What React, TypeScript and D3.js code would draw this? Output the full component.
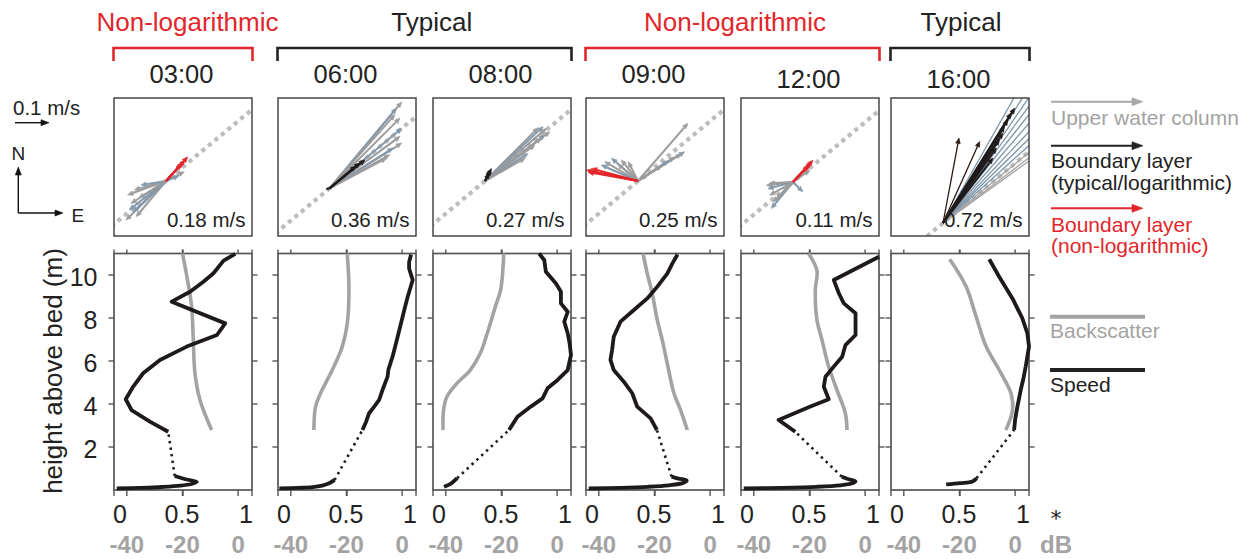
import React from "react";
import * as d3 from "d3";

const FONT = "'Liberation Sans', Arial, Helvetica, sans-serif";
const RED = "#e3262b";
const GREY_TXT = "#a3a3a3";
const BLACK = "#1e1a1a";

// ---------- categories / labels ----------
const TIMES = ["03:00", "06:00", "08:00", "09:00", "12:00", "16:00"];
const MAX_SPEED_LABELS = ["0.18 m/s", "0.36 m/s", "0.27 m/s", "0.25 m/s", "0.11 m/s", "0.72 m/s"];
const BED_TYPE = ["non", "typical", "typical", "non", "non", "typical"];
const GROUP_LABELS = ["Non-logarithmic", "Typical", "Non-logarithmic", "Typical"];
const GROUP_TYPE = ["non", "typical", "non", "typical"];
const GROUP_FIRST = [0, 1, 3, 5];
const GROUP_LAST = [0, 2, 4, 5];

const SPEED_TICKS = [0, 0.5, 1];
const SPEED_TICK_LABELS = ["0", "0.5", "1"];
const DB_TICKS = [-40, -20, 0];
const HEIGHT_TICKS = [2, 4, 6, 8, 10];
const PRINCIPAL_AXIS_DEG = 39.7;
const SCALE_ARROW_MS = 0.1;

// ---------- profiles: [normalised speed, height above bed (m)] ----------
const SPEED_UPPER_0300 = [[0.393, 2.71], [0.26, 3.18], [0.127, 3.72], [0.085, 4.22], [0.138, 4.8], [0.211, 5.43], [0.333, 6.05], [0.527, 6.67], [0.746, 7.21], [0.806, 7.75], [0.418, 8.76], [0.551, 9.22], [0.648, 9.69], [0.721, 10.08], [0.794, 10.67], [0.879, 10.98]];
const SPEED_UPPER_0600 = [[0.612, 2.79], [0.64, 3.2], [0.66, 3.57], [0.7, 3.9], [0.733, 4.19], [0.76, 4.7], [0.794, 5.27], [0.8, 5.6], [0.83, 6.2], [0.85, 6.7], [0.867, 7.13], [0.903, 8.06], [0.92, 8.5], [0.94, 8.99], [0.976, 9.77], [0.95, 10.3], [0.95, 10.6], [0.964, 10.95]];
const SPEED_UPPER_0800 = [[0.551, 2.79], [0.612, 3.41], [0.709, 3.88], [0.794, 4.26], [0.83, 4.73], [0.903, 5.12], [0.976, 5.58], [1.0, 6.28], [0.99, 6.82], [0.976, 7.29], [0.951, 7.83], [0.976, 8.29], [0.927, 8.68], [0.927, 9.22], [0.891, 9.6], [0.818, 10.15], [0.806, 10.7], [0.769, 11.0]];
const SPEED_UPPER_0900 = [[0.514, 2.79], [0.468, 3.33], [0.371, 3.88], [0.335, 4.5], [0.274, 5.04], [0.201, 5.58], [0.177, 6.05], [0.189, 6.51], [0.201, 7.13], [0.25, 7.83], [0.347, 8.37], [0.444, 8.91], [0.517, 9.46], [0.59, 10.08], [0.626, 10.54], [0.663, 10.95]];
const SPEED_UPPER_1200 = [[0.393, 2.71], [0.272, 3.26], [0.503, 3.88], [0.636, 4.22], [0.6, 4.8], [0.612, 5.27], [0.672, 5.74], [0.733, 6.2], [0.757, 6.74], [0.83, 7.21], [0.83, 8.22], [0.745, 8.68], [0.709, 9.15], [0.672, 9.77], [1.0, 10.85]];
const SPEED_UPPER_1600 = [[0.892, 2.79], [0.9, 3.3], [0.916, 3.88], [0.94, 4.65], [0.96, 5.2], [0.976, 5.74], [1.0, 6.67], [0.988, 7.29], [0.952, 7.98], [0.88, 8.91], [0.784, 9.92], [0.712, 10.73]];
const SPEED_UPPER = [SPEED_UPPER_0300, SPEED_UPPER_0600, SPEED_UPPER_0800, SPEED_UPPER_0900, SPEED_UPPER_1200, SPEED_UPPER_1600];

const SPEED_BED_0300 = [[0.02, 0.07], [0.2, 0.1], [0.35, 0.14], [0.48, 0.2], [0.56, 0.28], [0.6, 0.38], [0.52, 0.5], [0.44, 0.65]];
const SPEED_BED_0600 = [[0.01, 0.08], [0.15, 0.1], [0.25, 0.13], [0.32, 0.2], [0.37, 0.31], [0.41, 0.47]];
const SPEED_BED_0800 = [[0.08, 0.15], [0.13, 0.3], [0.175, 0.55]];
const SPEED_BED_0900 = [[0.02, 0.07], [0.25, 0.1], [0.45, 0.15], [0.6, 0.22], [0.7, 0.32], [0.73, 0.44], [0.67, 0.53], [0.62, 0.62]];
const SPEED_BED_1200 = [[0.02, 0.07], [0.3, 0.1], [0.55, 0.15], [0.72, 0.22], [0.8, 0.3], [0.83, 0.4], [0.78, 0.5], [0.73, 0.62]];
const SPEED_BED_1600 = [[0.4, 0.26], [0.5, 0.32], [0.59, 0.39], [0.62, 0.55]];
const SPEED_BED = [SPEED_BED_0300, SPEED_BED_0600, SPEED_BED_0800, SPEED_BED_0900, SPEED_BED_1200, SPEED_BED_1600];

// backscatter: [dB, height (m)]
const BACKSCATTER_0300 = [[-9.5, 2.79], [-13.7, 4.19], [-15.5, 5.43], [-16.1, 6.98], [-16.7, 8.53], [-18.5, 10], [-20, 11]];
const BACKSCATTER_0600 = [[-31.7, 2.79], [-31.1, 3.88], [-29.3, 4.5], [-25.1, 5.58], [-21.5, 6.67], [-19.7, 7.75], [-19.1, 9.3], [-19.7, 11]];
const BACKSCATTER_0800 = [[-41, 2.79], [-40.8, 3.72], [-39.6, 4.34], [-36, 4.96], [-31.2, 5.58], [-27.6, 6.36], [-25.1, 7.29], [-22.2, 8.53], [-20.3, 9.3], [-19.4, 10.4], [-19.2, 11]];
const BACKSCATTER_0900 = [[-8.2, 2.79], [-10.6, 3.72], [-13, 4.5], [-15.4, 5.89], [-17.2, 6.98], [-19, 7.91], [-20.8, 9.15], [-22.6, 10.08], [-24.1, 11]];
const BACKSCATTER_1200 = [[-6.5, 2.79], [-7.1, 3.57], [-10.1, 4.65], [-13.1, 5.74], [-15.5, 6.98], [-17.3, 7.91], [-17.9, 9.3], [-17.3, 10.2], [-20.3, 11]];
const BACKSCATTER_1600 = [[-3.3, 2.79], [-0.9, 3.72], [-1.5, 4.5], [-5.7, 5.58], [-10.4, 6.67], [-14, 8.06], [-17.6, 9.46], [-23.5, 10.73]];
const BACKSCATTER = [BACKSCATTER_0300, BACKSCATTER_0600, BACKSCATTER_0800, BACKSCATTER_0900, BACKSCATTER_1200, BACKSCATTER_1600];

// ---------- velocity vectors: [east, north] in m/s ----------
const UPPER_ARROWS_0300 = [[-0.118, -0.115], [-0.108, -0.085], [-0.113, -0.041], [-0.093, -0.026], [-0.074, -0.012], [-0.103, -0.066], [-0.088, -0.105], [-0.097, -0.091], [-0.08, -0.05], [0.054, 0.027], [0.038, 0.015]];
const UPPER_ARROWS_0600 = [[0.211, 0.253], [0.196, 0.235], [0.191, 0.216], [0.206, 0.206], [0.211, 0.176], [0.206, 0.152], [0.211, 0.132], [0.186, 0.118], [0.176, 0.098], [0.167, 0.088]];
const UPPER_ARROWS_0800 = [[0.157, 0.157], [0.171, 0.16], [0.181, 0.155], [0.191, 0.145], [0.176, 0.135], [0.166, 0.126], [0.147, 0.106], [0.127, 0.081], [0.118, 0.067]];
const UPPER_ARROWS_0900 = [[0.147, 0.17], [0.137, 0.086], [0.128, 0.08], [0.108, 0.071], [0.09, 0.06], [0.07, 0.045], [-0.098, 0.057], [-0.078, 0.067], [-0.049, 0.062], [-0.029, 0.057], [-0.108, 0.047], [-0.06, 0.05], [0.03, 0.02]];
const UPPER_ARROWS_1200 = [[-0.079, -0.01], [-0.074, -0.02], [-0.069, -0.039], [-0.059, -0.059], [-0.064, -0.078], [-0.049, -0.049], [-0.07, -0.004], [0.029, -0.029], [0.05, 0.035]];
const UPPER_ARROWS_1600 = [[0.306, 0.539], [0.343, 0.54], [0.373, 0.545], [0.403, 0.548], [0.435, 0.549], [0.47, 0.545], [0.487, 0.517], [0.5, 0.49], [0.505, 0.455], [0.51, 0.419], [0.51, 0.387], [0.503, 0.363]];
const UPPER_ARROWS = [UPPER_ARROWS_0300, UPPER_ARROWS_0600, UPPER_ARROWS_0800, UPPER_ARROWS_0900, UPPER_ARROWS_1200, UPPER_ARROWS_1600];

const BED_ARROWS_0300 = [[0.064, 0.071], [0.056, 0.062], [0.05, 0.055], [0.045, 0.05]];
const BED_ARROWS_0600 = [[0.103, 0.083], [0.088, 0.074], [0.076, 0.065], [-0.012, -0.004]];
const BED_ARROWS_0800 = [[0.019, 0.037], [0.016, 0.032], [0.012, 0.023]];
const BED_ARROWS_0900 = [[-0.152, 0.032], [-0.137, 0.037], [-0.147, 0.026], [-0.14, 0.03]];
const BED_ARROWS_1200 = [[0.059, 0.064], [0.054, 0.059], [0.05, 0.052], [0.045, 0.048]];
const BED_ARROWS_1600 = [[0.211, 0.338], [0.201, 0.324], [0.191, 0.304], [0.181, 0.284], [0.176, 0.265], [0.166, 0.245], [0.157, 0.221], [0.147, 0.191], [0.047, 0.25], [0.108, 0.24]];
const BED_ARROWS = [BED_ARROWS_0300, BED_ARROWS_0600, BED_ARROWS_0800, BED_ARROWS_0900, BED_ARROWS_1200, BED_ARROWS_1600];

// ---------- layout ----------
const W = 1252;
const H = 559;
const PANEL_X = [114, 278, 433, 586, 741, 891];
const PANEL_W = 138;
const TOP_Y = 98;
const TOP_H = 138;
const BOT_TOP = 253.5;
const BOT_BOTTOM = 490;
const PX_PER_MS = 340;
const ORIGIN_DX = 52;
const ORIGIN_DY = [83, 90, 83, 83, 84, 125];
const TIME_BASELINE = [83, 83, 83, 83, 88, 88];
const GROUP_LABEL_X = [187.5, 431.7, 735, 961];

function arrowPath(x1: number, y1: number, x2: number, y2: number, len: number, half: number) {
  const L = Math.hypot(x2 - x1, y2 - y1);
  const hl = Math.min(len, L * 0.6);
  const hw = half * (hl / len);
  const a = Math.atan2(y2 - y1, x2 - x1);
  const bx = x2 - hl * Math.cos(a);
  const by = y2 - hl * Math.sin(a);
  const px = -Math.sin(a) * hw;
  const py = Math.cos(a) * hw;
  return {
    line: `M${x1},${y1}L${bx},${by}`,
    head: `M${x2},${y2}L${bx + px},${by + py}L${bx - px},${by - py}Z`,
  };
}

function Arrow({ x1, y1, x2, y2, color, width = 1.4, len = 7, half = 2.6 }: any) {
  const p = arrowPath(x1, y1, x2, y2, len, half);
  return (
    <g>
      <path d={p.line} stroke={color} strokeWidth={width} fill="none" />
      <path d={p.head} fill={color} stroke={color} strokeWidth={0.6} />
    </g>
  );
}

function TopPanel({ i }: { i: number }) {
  const x0 = PANEL_X[i];
  const ox = x0 + ORIGIN_DX;
  const oy = TOP_Y + ORIGIN_DY[i];
  const ex = d3.scaleLinear().domain([0, 1]).range([ox, ox + PX_PER_MS]);
  const ny = d3.scaleLinear().domain([0, 1]).range([oy, oy - PX_PER_MS]);
  const th = (PRINCIPAL_AXIS_DEG * Math.PI) / 180;
  const bedColor = BED_TYPE[i] === "non" ? RED : BLACK;
  return (
    <g>
      <clipPath id={`clip-top-${i}`}>
        <rect x={x0} y={TOP_Y} width={PANEL_W} height={TOP_H} />
      </clipPath>
      <g clipPath={`url(#clip-top-${i})`}>
        <line
          x1={ex(-Math.cos(th))}
          y1={ny(-Math.sin(th))}
          x2={ex(Math.cos(th))}
          y2={ny(Math.sin(th))}
          stroke="#bdbdbd"
          strokeWidth={4.2}
          strokeDasharray="4.2 4.2"
        />
        {UPPER_ARROWS[i].map((d, k) => (
          <Arrow
            key={`u${k}`}
            x1={ex(0)}
            y1={ny(0)}
            x2={ex(d[0])}
            y2={ny(d[1])}
            color={i === 5 ? (k < 9 ? "#7f95a9" : "#a4a4a4") : k % 3 === 1 ? "#8398aa" : "#9c9c9c"}
            width={i === 5 ? 1.3 : 2}
            len={5.5}
            half={2.3}
          />
        ))}
        {BED_ARROWS[i].map((d, k) => (
          <Arrow
            key={`b${k}`}
            x1={ex(0)}
            y1={ny(0)}
            x2={ex(d[0])}
            y2={ny(d[1])}
            color={i === 5 && k >= 8 ? "#2a1712" : bedColor}
            width={i === 5 && k >= 8 ? 1.3 : 2}
            len={5.5}
            half={2.3}
          />
        ))}
      </g>
      <rect x={x0} y={TOP_Y} width={PANEL_W} height={TOP_H} fill="none" stroke="#3a3a3a" strokeWidth={1.4} />
      <text x={x0 + PANEL_W - 6.5} y={TOP_Y + 129} textAnchor="end" fontSize={20.5} fill="#222">
        {MAX_SPEED_LABELS[i]}
      </text>
    </g>
  );
}

function BottomPanel({ i }: { i: number }) {
  const x0 = PANEL_X[i];
  const sx = d3.scaleLinear().domain([0, 1]).range([x0, x0 + PANEL_W]);
  const sdb = d3.scaleLinear().domain([-44.6, 5]).range([x0, x0 + PANEL_W]);
  const sy = d3.scaleLinear().domain([0, 11]).range([BOT_BOTTOM, BOT_TOP]);
  const speedLine = d3.line<number[]>().x((d) => sx(d[0])).y((d) => sy(d[1]));
  const smoothSpeed = d3.line<number[]>().x((d) => sx(d[0])).y((d) => sy(d[1])).curve(d3.curveCatmullRom.alpha(0.5));
  const bsLine = d3.line<number[]>().x((d) => sdb(d[0])).y((d) => sy(d[1])).curve(d3.curveCatmullRom.alpha(0.5));
  const upper = SPEED_UPPER[i];
  const bed = SPEED_BED[i];
  const gapStart = bed[bed.length - 1];
  const gapEnd = upper[0];
  const tickLen = 6;
  const xTicks = [...SPEED_TICKS.map((t) => sx(t)), ...DB_TICKS.map((t) => sdb(t))];
  return (
    <g>
      <rect x={x0} y={BOT_TOP} width={PANEL_W} height={BOT_BOTTOM - BOT_TOP} fill="#fff" stroke="#555" strokeWidth={1.7} />
      {xTicks.map((x, k) => (
        <g key={`xt${k}`}>
          <line x1={x} x2={x} y1={BOT_BOTTOM} y2={BOT_BOTTOM + tickLen} stroke="#555" strokeWidth={1.4} />
          <line x1={x} x2={x} y1={BOT_TOP} y2={BOT_TOP - tickLen + 2} stroke="#555" strokeWidth={1.4} />
        </g>
      ))}
      {HEIGHT_TICKS.map((t) => (
        <g key={`yt${t}`}>
          <line x1={x0} x2={x0 - 5.5} y1={sy(t)} y2={sy(t)} stroke="#555" strokeWidth={1.4} />
          <line x1={x0 + PANEL_W} x2={x0 + PANEL_W + 5.5} y1={sy(t)} y2={sy(t)} stroke="#555" strokeWidth={1.4} />
        </g>
      ))}
      <path d={bsLine(BACKSCATTER[i] as any) || ""} fill="none" stroke="#a3a3a3" strokeWidth={3.6} />
      <path d={speedLine(upper as any) || ""} fill="none" stroke={BLACK} strokeWidth={3.8} strokeLinejoin="round" />
      <path d={smoothSpeed(bed as any) || ""} fill="none" stroke={BLACK} strokeWidth={3.8} strokeLinejoin="round" />
      <line
        x1={sx(gapStart[0])}
        y1={sy(gapStart[1])}
        x2={sx(gapEnd[0])}
        y2={sy(gapEnd[1])}
        stroke={BLACK}
        strokeWidth={2.6}
        strokeDasharray="2.4 4.2"
      />
      {SPEED_TICKS.map((t, k) => (
        <text
          key={`sl${k}`}
          x={k === 0 ? sx(t) - 1 : k === 2 ? sx(t) + 1 : sx(t) - 1}
          y={523}
          fontSize={25}
          fill="#222"
          textAnchor={k === 0 ? "start" : k === 2 ? "end" : "middle"}
        >
          {SPEED_TICK_LABELS[k]}
        </text>
      ))}
      {DB_TICKS.map((t) => (
        <text key={`dl${t}`} x={sdb(t)} y={553} fontSize={24} fontWeight="bold" fill={GREY_TXT} textAnchor="middle">
          {t}
        </text>
      ))}
    </g>
  );
}

export default function App() {
  const sy = d3.scaleLinear().domain([0, 11]).range([BOT_BOTTOM, BOT_TOP]);
  return (
    <svg
      width={W}
      height={H}
      viewBox={`0 0 ${W} ${H}`}
      style={{ position: "absolute", left: 0, top: 0, background: "#fff" }}
      fontFamily={FONT}
    >
      <rect width={W} height={H} fill="#fff" />
      {/* group brackets */}
      {GROUP_LABELS.map((g, k) => {
        const color = GROUP_TYPE[k] === "non" ? RED : "#222";
        const xa = PANEL_X[GROUP_FIRST[k]] - 0.5;
        const xb = PANEL_X[GROUP_LAST[k]] + PANEL_W + 0.5;
        return (
          <g key={`g${k}`}>
            <path d={`M${xa},61V48H${xb}V61`} fill="none" stroke={color} strokeWidth={2.6} />
            <text x={GROUP_LABEL_X[k]} y={31} fontSize={26} fill={color} textAnchor="middle">
              {g}
            </text>
          </g>
        );
      })}
      {TIMES.map((t, i) => (
        <text key={t} x={PANEL_X[i] + PANEL_W / 2 - 1.5} y={TIME_BASELINE[i]} fontSize={25.5} fill="#222" textAnchor="middle">
          {t}
        </text>
      ))}
      {TIMES.map((t, i) => (
        <TopPanel key={`tp${t}`} i={i} />
      ))}
      {TIMES.map((t, i) => (
        <BottomPanel key={`bp${t}`} i={i} />
      ))}
      {/* y axis labels */}
      {HEIGHT_TICKS.map((t) => (
        <text key={`yl${t}`} x={97.5} y={sy(t) + 11} fontSize={25} fill="#222" textAnchor="end">
          {t}
        </text>
      ))}
      <text transform="translate(62,371) rotate(-90)" fontSize={26} fill="#222" textAnchor="middle">
        height above bed (m)
      </text>
      {/* scale + compass */}
      <text x={13} y={115} fontSize={20.5} fill="#222">
        0.1 m/s
      </text>
      <Arrow x1={15} y1={122.7} x2={15 + SCALE_ARROW_MS * PX_PER_MS} y2={122.7} color="#111" width={1.4} len={8} half={3} />
      <text x={18.3} y={159.5} fontSize={19} fill="#222" textAnchor="middle">
        N
      </text>
      <Arrow x1={18.3} y1={213} x2={18.3} y2={167} color="#111" width={1.4} len={8} half={3} />
      <Arrow x1={18.3} y1={213} x2={63} y2={213} color="#111" width={1.4} len={8} half={3} />
      <text x={71.5} y={221.7} fontSize={19} fill="#222">
        E
      </text>
      {/* legend */}
      <Arrow x1={1051} y1={101.7} x2={1143} y2={101.7} color="#a8a8a8" width={2} len={11} half={4} />
      <text x={1051} y={124.5} fontSize={21} fill={GREY_TXT}>
        Upper water column
      </text>
      <Arrow x1={1051} y1={145.7} x2={1143} y2={145.7} color="#222" width={2} len={11} half={4} />
      <text x={1051} y={168} fontSize={21} fill="#222">
        Boundary layer
      </text>
      <text x={1051} y={189.5} fontSize={21} fill="#222">
        (typical/logarithmic)
      </text>
      <Arrow x1={1051} y1={208.3} x2={1143} y2={208.3} color={RED} width={2} len={11} half={4} />
      <text x={1051} y={231.7} fontSize={21} fill={RED}>
        Boundary layer
      </text>
      <text x={1051} y={253.3} fontSize={21} fill={RED}>
        (non-logarithmic)
      </text>
      <line x1={1050} x2={1145} y1={316.7} y2={316.7} stroke="#a3a3a3" strokeWidth={4} />
      <text x={1050} y={338.3} fontSize={21} fill={GREY_TXT}>
        Backscatter
      </text>
      <line x1={1050} x2={1145} y1={370} y2={370} stroke="#222" strokeWidth={4} />
      <text x={1050} y={391.7} fontSize={21} fill="#222">
        Speed
      </text>
      <text x={1050.5} y={526} fontSize={22} fill="#222" fontFamily="'DejaVu Sans', sans-serif">
        *
      </text>
      <text x={1040} y={553} fontSize={24} fontWeight="bold" fill={GREY_TXT}>
        dB
      </text>
    </svg>
  );
}
